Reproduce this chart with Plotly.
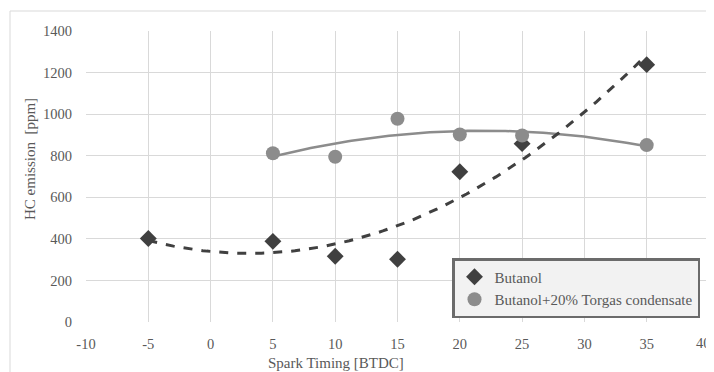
import numpy as np
import plotly.graph_objects as go

# Data
butanol_x = [-5, 5, 10, 15, 20, 25, 35]
butanol_y = [402, 388, 316, 302, 723, 858, 1238]
torgas_x = [5, 10, 15, 20, 25, 35]
torgas_y = [812, 795, 978, 902, 897, 851]

x_ticks = [-10, -5, 0, 5, 10, 15, 20, 25, 30, 35, 40]
y_ticks = [0, 200, 400, 600, 800, 1000, 1200, 1400]

series_names = ["Butanol", "Butanol+20% Torgas condensate"]

FONT = "Liberation Serif"
TXT = "#595959"
GRID = "#d9d9d9"

# Polynomial (order 2) trendlines, as in the spreadsheet chart
cb = np.polyfit(butanol_x, butanol_y, 2)
ct = np.polyfit(torgas_x, torgas_y, 2)
xb = np.linspace(min(butanol_x), max(butanol_x), 120)
xt = np.linspace(min(torgas_x), max(torgas_x), 120)

fig = go.Figure()
fig.add_trace(go.Scatter(x=xt, y=np.polyval(ct, xt), mode="lines",
                         line=dict(color="#8c8c8c", width=2.5),
                         showlegend=False, hoverinfo="skip"))
fig.add_trace(go.Scatter(x=xb, y=np.polyval(cb, xb), mode="lines",
                         line=dict(color="#404040", width=3, dash="dash"),
                         showlegend=False, hoverinfo="skip"))
fig.add_trace(go.Scatter(x=butanol_x, y=butanol_y, mode="markers",
                         name=series_names[0],
                         marker=dict(symbol="diamond", size=13, color="#404040")))
fig.add_trace(go.Scatter(x=torgas_x, y=torgas_y, mode="markers",
                         name=series_names[1],
                         marker=dict(symbol="circle", size=14, color="#8c8c8c")))

# the page body adds an 8px offset; size the figure so it fills the window
OFF = 8
W, H = 714 - OFF, 372 - OFF
L, T = 86 - OFF, 31 - OFF
R = W - (709 - OFF)
B = H - (322 - OFF)
pw = W - L - R
ph = H - T - B

def px_x(win):
    return (win - OFF - L) / pw

def px_y(win):
    return (H - B - (win - OFF)) / ph

fig.update_layout(
    width=W, height=H,
    margin=dict(l=L, r=R, t=T, b=B, autoexpand=False),
    paper_bgcolor="white", plot_bgcolor="white",
    font=dict(family=FONT, size=14, color=TXT),
    xaxis=dict(range=[-10, 40], tickvals=x_ticks[:-1], ticktext=[str(v) for v in x_ticks[:-1]],
               showgrid=True, gridcolor=GRID, gridwidth=1, zeroline=False,
               showline=False, ticks="outside", ticklen=9, tickcolor="rgba(0,0,0,0)",
               tickfont=dict(family=FONT, size=14.5, color=TXT)),
    yaxis=dict(range=[0, 1400], tickvals=y_ticks, ticktext=[str(v) for v in y_ticks],
               showgrid=True, gridcolor=GRID, gridwidth=1, zeroline=False,
               showline=False, ticks="outside", ticklen=10, tickcolor="rgba(0,0,0,0)",
               tickfont=dict(family=FONT, size=14.5, color=TXT)),
    legend=dict(x=px_x(452), y=px_y(258), xanchor="left", yanchor="top",
                bgcolor="#f2f2f2", bordercolor="#6b6b6b", borderwidth=2.5,
                font=dict(family=FONT, size=15, color=TXT),
                itemwidth=30, tracegroupgap=2),
    showlegend=True,
)

# last x tick label, at the right edge as in the reference
fig.add_annotation(text=str(x_ticks[-1]), xref="paper", yref="paper",
                   x=px_x(713), xanchor="right", y=px_y(343), yanchor="middle",
                   showarrow=False, font=dict(family=FONT, size=14.5, color=TXT))

# outer chart border
fig.add_shape(type="rect", xref="paper", yref="paper",
              x0=px_x(10), x1=px_x(740), y0=px_y(420), y1=px_y(11),
              line=dict(color="#d9d9d9", width=1), fillcolor="rgba(0,0,0,0)",
              layer="below")

fig.add_annotation(text="Spark Timing [BTDC]", xref="paper", yref="paper",
                   x=px_x(336), y=px_y(363), xanchor="center", yanchor="middle",
                   showarrow=False, font=dict(family=FONT, size=15, color=TXT))
fig.add_annotation(text="HC emission  [ppm]", xref="paper", yref="paper",
                   x=px_x(30), y=px_y(159), xanchor="center", yanchor="middle",
                   showarrow=False, textangle=-90,
                   font=dict(family=FONT, size=15, color=TXT))

fig.write_html("out.html")
